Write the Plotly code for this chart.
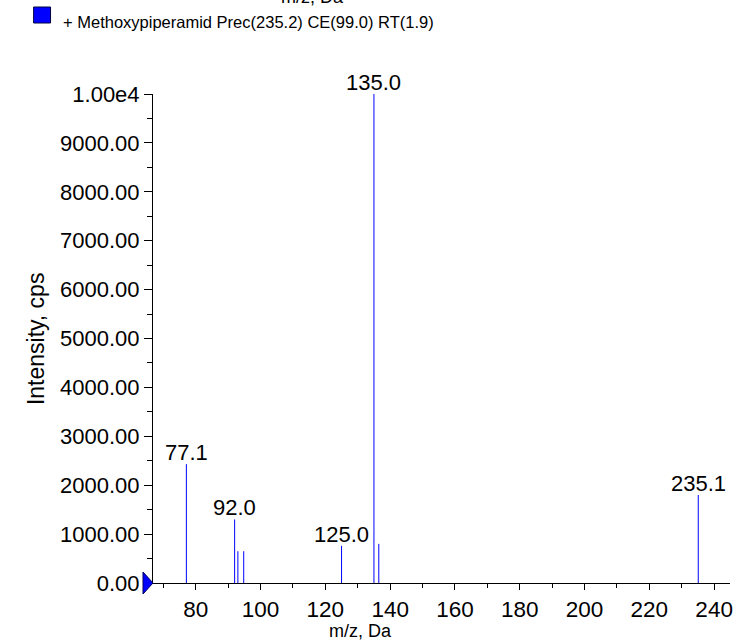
import plotly.graph_objects as go

# ---- data ----
mz = [77.1, 92.0, 93.0, 94.8, 125.0, 135.0, 136.5, 235.1]
intensity = [2430, 1300, 650, 650, 760, 10000, 800, 1800]
peak_labels = ["77.1", "92.0", "", "", "125.0", "135.0", "", "235.1"]
y_tickvals = [0, 1000, 2000, 3000, 4000, 5000, 6000, 7000, 8000, 9000, 10000]
y_ticktext = ["0.00", "1000.00", "2000.00", "3000.00", "4000.00", "5000.00",
              "6000.00", "7000.00", "8000.00", "9000.00", "1.00e4"]
x_tickvals = [80, 100, 120, 140, 160, 180, 200, 220, 240]
legend_text = "+ Methoxypiperamid Prec(235.2) CE(99.0) RT(1.9)"
x_title = "m/z, Da"
y_title = "Intensity, cps"

FONT = "Liberation Sans, Arial, sans-serif"
W, H = 738, 641
L, R, T, B = 153, 5, 94, 58
pw, ph = W - L - R, H - T - B

def px(xp):
    return (xp - L) / pw

def py(yp):
    return (H - B - yp) / ph

xs, ys = [], []
for m, v in zip(mz, intensity):
    xs += [m, m, None]
    ys += [0, v, None]

fig = go.Figure()
fig.add_trace(go.Scatter(x=xs, y=ys, mode="lines",
                         line=dict(color="#0000ff", width=1),
                         hoverinfo="skip", showlegend=False))

annotations = []
for m, v, lab in zip(mz, intensity, peak_labels):
    if lab:
        annotations.append(dict(x=m, y=v, xref="x", yref="y", text=lab,
                                showarrow=False, yanchor="bottom", yshift=-3,
                                font=dict(family=FONT, size=22, color="black")))

annotations += [
    dict(x=px(362), y=py(631), xref="paper", yref="paper", text=x_title,
         showarrow=False, xanchor="center", yanchor="middle",
         font=dict(family=FONT, size=18, color="black")),
    dict(x=px(313), y=py(9), xref="paper", yref="paper", text=x_title,
         showarrow=False, xanchor="center", yanchor="bottom",
         font=dict(family=FONT, size=18, color="black")),
    dict(x=px(35), y=0.5, xref="paper", yref="paper", text=y_title,
         showarrow=False, textangle=-90, xanchor="center", yanchor="middle",
         font=dict(family=FONT, size=23, color="black")),
    dict(x=px(61), y=py(22), xref="paper", yref="paper", text=legend_text,
         showarrow=False, xanchor="left", yanchor="middle",
         font=dict(family=FONT, size=16.5, color="black")),
]

shapes = [
    dict(type="rect", xref="paper", yref="paper",
         x0=px(33), x1=px(50), y0=py(23), y1=py(7),
         fillcolor="#0000ff", line=dict(color="#000040", width=1)),
    dict(type="path", xref="paper", yref="paper",
         xsizemode="pixel", ysizemode="pixel", xanchor=0, yanchor=0,
         path="M -10,-11 L 0,0 L -10,11 Z",
         fillcolor="#0000ff", line=dict(color="#000060", width=1)),
]

fig.update_layout(
    width=W, height=H,
    margin=dict(l=L, r=R, t=T, b=B, pad=0),
    paper_bgcolor="white", plot_bgcolor="white",
    showlegend=False,
    annotations=annotations,
    shapes=shapes,
    xaxis=dict(range=[66.8, 244.9], showgrid=False, zeroline=False,
               showline=True, linecolor="black", linewidth=1,
               tickmode="array", tickvals=x_tickvals,
               ticks="outside", ticklen=6, tickcolor="black", tickwidth=1,
               tickfont=dict(family=FONT, size=22.5, color="black"),
               minor=dict(tickmode="linear", tick0=0, dtick=10, ticks="outside",
                          ticklen=4, tickcolor="black", tickwidth=1, showgrid=False)),
    yaxis=dict(range=[0, 10000], showgrid=False, zeroline=False,
               showline=True, linecolor="black", linewidth=1,
               tickmode="array", tickvals=y_tickvals, ticktext=y_ticktext,
               ticks="outside", ticklen=8, tickcolor="black", tickwidth=1,
               ticklabelstandoff=0,
               tickfont=dict(family=FONT, size=22, color="black"),
               minor=dict(tickmode="linear", tick0=500, dtick=1000, ticks="outside",
                          ticklen=5, tickcolor="black", tickwidth=1, showgrid=False)),
)

fig.write_html("out.html", config={"displayModeBar": False},
               post_script="document.body.style.margin='0px';document.body.style.overflow='hidden';")
